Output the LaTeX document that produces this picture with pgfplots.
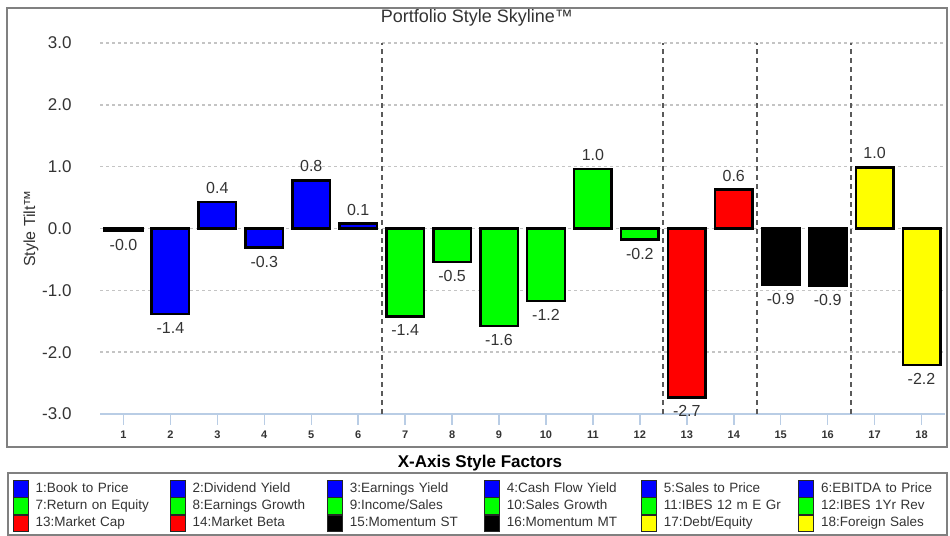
\documentclass[border=0pt]{standalone}
\usepackage{pgfplots}
\pgfplotsset{compat=1.18}
\usepackage{fontspec}
\setmainfont{Liberation Sans}

\definecolor{frameGray}{HTML}{808080}
\definecolor{gridGray}{HTML}{C4C4C4}
\definecolor{sepGray}{HTML}{5A5A5A}
\definecolor{axisBlue}{HTML}{B9CDE5}
\definecolor{txt}{HTML}{333333}
\definecolor{fBlue}{RGB}{0,0,255}
\definecolor{fGreen}{RGB}{0,255,0}
\definecolor{fRed}{RGB}{255,0,0}
\definecolor{fBlack}{RGB}{0,0,0}
\definecolor{fYellow}{RGB}{255,255,0}

% value label with one decimal, keeping the sign of small negatives (-0.0)
\newcommand\tiltlabel[1]{%
  \begingroup
  \pgfmathfloatparsenumber{#1}\let\tlv\pgfmathresult
  \pgfmathfloatgetflagstomacro{\tlv}{\tlflag}%
  \ifnum\tlflag=2 -\fi
  \pgfkeys{/pgf/fpu=true,/pgf/fpu/output format=float}%
  \pgfmathparse{abs(\tlv)}%
  \pgfmathprintnumber[fixed,fixed zerofill,precision=1]{\pgfmathresult}%
  \endgroup}

\pgfplotsset{
  skybar/.style={ybar, bar width=0.8, bar shift=0pt, draw=black,
    line width=2.5pt, forget plot},
}

\begin{document}
\begin{tikzpicture}
\begin{axis}[
  scale only axis, width=845pt, height=371pt,
  xmin=0.5, xmax=18.5, ymin=-3, ymax=3,
  clip=false,
  /pgf/number format/assume math mode=true,
  axis x line=bottom, axis y line*=left,
  x axis line style={-, draw=axisBlue, line width=1.5pt},
  y axis line style={draw=none},
  xtick={1,...,18},
  xtick style={draw=axisBlue, line width=1.5pt},
  tick align=outside, major tick length=11pt,
  xticklabel style={font=\bfseries\fontsize{11}{13}\selectfont, text=txt, yshift=-2pt},
  ytick={-3,...,3},
  ytick style={draw=none},
  yticklabel style={/pgf/number format/fixed, /pgf/number format/fixed zerofill,
    /pgf/number format/precision=1,
    font=\fontsize{17}{19}\selectfont, text=txt, xshift=-14pt},
  ymajorgrids,
  y grid style={gridGray, line width=1.5pt, dash pattern=on 3pt off 3pt},
  extra x ticks={6.5,12.5,14.5,16.5},
  extra x tick labels={},
  extra x tick style={grid=major, major tick length=0pt,
    major grid style={sepGray, line width=2pt, dash pattern=on 5pt off 4pt}},
  title={Portfolio Style Skyline™},
  title style={at={(axis description cs:0.446,1.051)}, anchor=center,
    font=\fontsize{18}{20}\selectfont, text=txt},
  xlabel={X-Axis Style Factors},
  xlabel style={at={(axis description cs:0.4497,-0.132)}, anchor=center,
    font=\bfseries\fontsize{17}{20}\selectfont, text=black},
  ylabel={Style Tilt™},
  ylabel style={at={(axis description cs:-0.0817,0.5)}, anchor=center,
    font=\fontsize{16}{18}\selectfont, text=txt},
  nodes near coords={\tiltlabel{\pgfplotspointmeta}},
  every node near coord/.append style={font=\fontsize{16}{18}\selectfont,
    text=txt, inner ysep=7pt},
  legend columns=6,
  legend cell align=left,
  legend image code/.code={
    \draw[#1, draw=black!85, line width=0.8pt] (0pt,-8.3pt) rectangle (14.6pt,8.3pt);
    \path (22pt,0pt);
  },
  legend style={at={(axis description cs:-0.10296,-0.17790)}, anchor=north west,
    draw=none, fill=none, inner sep=0pt, outer sep=0pt, overlay,
    row sep=0pt, column sep=0pt,
    font=\fontsize{13.5}{16}\selectfont, text=txt,
    nodes={inner sep=0pt, text width=134.5pt, align=left,
      text height=9.5pt, text depth=2.5pt}},
]
% chart frame, legend frame and the page extent
\path (axis description cs:-0.11834,-0.32884) rectangle (axis description cs:1.00592,1.11590);
\draw[frameGray, line width=2pt] (axis description cs:-0.11006,-0.09030) rectangle (axis description cs:1.00237,1.09434);
\draw[frameGray, line width=2pt] (axis description cs:-0.10888,-0.32615) rectangle (axis description cs:1.00237,-0.15903);

% style tilt of each factor
\addplot[skybar, fill=fBlue]   coordinates {(1,-0.04)};
\addplot[skybar, fill=fBlue]   coordinates {(2,-1.38)};
\addplot[skybar, fill=fBlue]   coordinates {(3,0.43)};
\addplot[skybar, fill=fBlue]   coordinates {(4,-0.31)};
\addplot[skybar, fill=fBlue]   coordinates {(5,0.78)};
\addplot[skybar, fill=fBlue]   coordinates {(6,0.08)};
\addplot[skybar, fill=fGreen]  coordinates {(7,-1.42)};
\addplot[skybar, fill=fGreen]  coordinates {(8,-0.54)};
\addplot[skybar, fill=fGreen]  coordinates {(9,-1.58)};
\addplot[skybar, fill=fGreen]  coordinates {(10,-1.17)};
\addplot[skybar, fill=fGreen]  coordinates {(11,0.96)};
\addplot[skybar, fill=fGreen]  coordinates {(12,-0.18)};
\addplot[skybar, fill=fRed]    coordinates {(13,-2.73)};
\addplot[skybar, fill=fRed]    coordinates {(14,0.63)};
\addplot[skybar, fill=fBlack]  coordinates {(15,-0.91)};
\addplot[skybar, fill=fBlack]  coordinates {(16,-0.93)};
\addplot[skybar, fill=fYellow] coordinates {(17,0.99)};
\addplot[skybar, fill=fYellow] coordinates {(18,-2.21)};

% factor legend
\addlegendimage{fill=fBlue}   \addlegendentry{1:Book to Price}
\addlegendimage{fill=fBlue}   \addlegendentry{2:Dividend Yield}
\addlegendimage{fill=fBlue}   \addlegendentry{3:Earnings Yield}
\addlegendimage{fill=fBlue}   \addlegendentry{4:Cash Flow Yield}
\addlegendimage{fill=fBlue}   \addlegendentry{5:Sales to Price}
\addlegendimage{fill=fBlue}   \addlegendentry{6:EBITDA to Price}
\addlegendimage{fill=fGreen}  \addlegendentry{7:Return on Equity}
\addlegendimage{fill=fGreen}  \addlegendentry{8:Earnings Growth}
\addlegendimage{fill=fGreen}  \addlegendentry{9:Income/Sales}
\addlegendimage{fill=fGreen}  \addlegendentry{10:Sales Growth}
\addlegendimage{fill=fGreen}  \addlegendentry{11:IBES 12 m E Gr}
\addlegendimage{fill=fGreen}  \addlegendentry{12:IBES 1Yr Rev}
\addlegendimage{fill=fRed}    \addlegendentry{13:Market Cap}
\addlegendimage{fill=fRed}    \addlegendentry{14:Market Beta}
\addlegendimage{fill=fBlack}  \addlegendentry{15:Momentum ST}
\addlegendimage{fill=fBlack}  \addlegendentry{16:Momentum MT}
\addlegendimage{fill=fYellow} \addlegendentry{17:Debt/Equity}
\addlegendimage{fill=fYellow} \addlegendentry{18:Foreign Sales}
\end{axis}
\end{tikzpicture}
\end{document}
